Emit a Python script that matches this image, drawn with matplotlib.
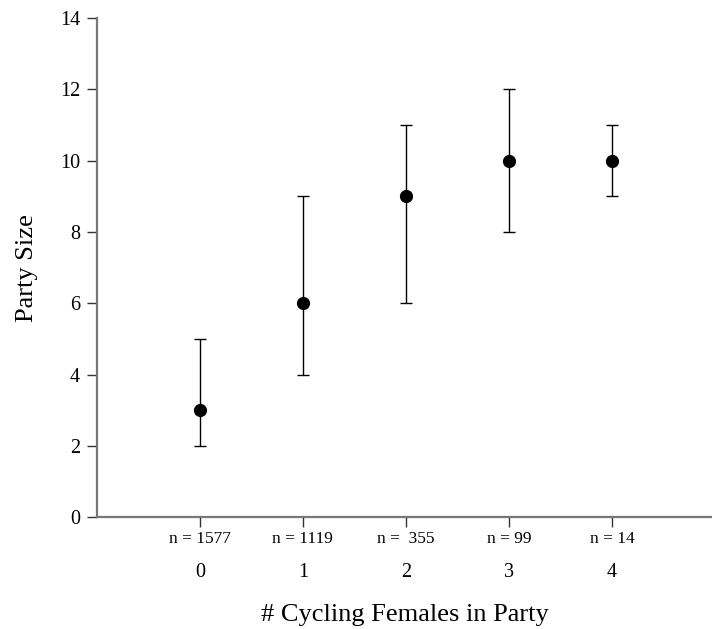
import matplotlib
matplotlib.use("Agg")
import matplotlib.pyplot as plt
import matplotlib.transforms as mtransforms

plt.rcParams['font.family'] = ['Liberation Serif', 'DejaVu Serif']

cycling = [0, 1, 2, 3, 4]
party_size = [3, 6, 9, 10, 10]
lower = [2, 4, 6, 8, 9]
upper = [5, 9, 11, 12, 11]
n_labels = ['n = 1577', 'n = 1119', 'n =  355', 'n = 99', 'n = 14']


def main():
    fig = plt.figure(figsize=(7.12, 6.29), dpi=100)
    ax = fig.add_axes([0.136, 0.178, 0.864, 0.793])

    yerr = [[m - lo for m, lo in zip(party_size, lower)],
            [hi - m for m, hi in zip(party_size, upper)]]
    ax.errorbar(cycling, party_size, yerr=yerr, fmt='o', color='black',
                markersize=8.5, elinewidth=1.0, capsize=4.5, capthick=1.0)

    ax.set_xlim(-1, 4.97)
    ax.set_ylim(0, 14)
    ax.set_yticks(range(0, 15, 2))
    ax.set_xticks(cycling)
    ax.set_xticklabels([str(c) for c in cycling])

    for s in ['top', 'right']:
        ax.spines[s].set_visible(False)
    for s in ['left', 'bottom']:
        ax.spines[s].set_color('#777777')
        ax.spines[s].set_linewidth(1.6)

    ax.tick_params(axis='y', length=7, width=1, color='#333333',
                   labelsize=14.5, pad=5)
    ax.tick_params(axis='x', length=7, width=1, color='#333333',
                   labelsize=14.5, pad=26)

    trans = mtransforms.offset_copy(ax.get_xaxis_transform(), fig=fig,
                                    x=0, y=-22, units='dots')
    for x, lab in zip(cycling, n_labels):
        ax.text(x, 0, lab, transform=trans, ha='center', va='center',
                fontsize=12.5)

    ax.set_xlabel('# Cycling Females in Party', fontsize=19, labelpad=16)
    ax.set_ylabel('Party Size', fontsize=19, labelpad=16)

    plt.savefig('out.png', dpi=100)


if __name__ == "__main__":
    main()
